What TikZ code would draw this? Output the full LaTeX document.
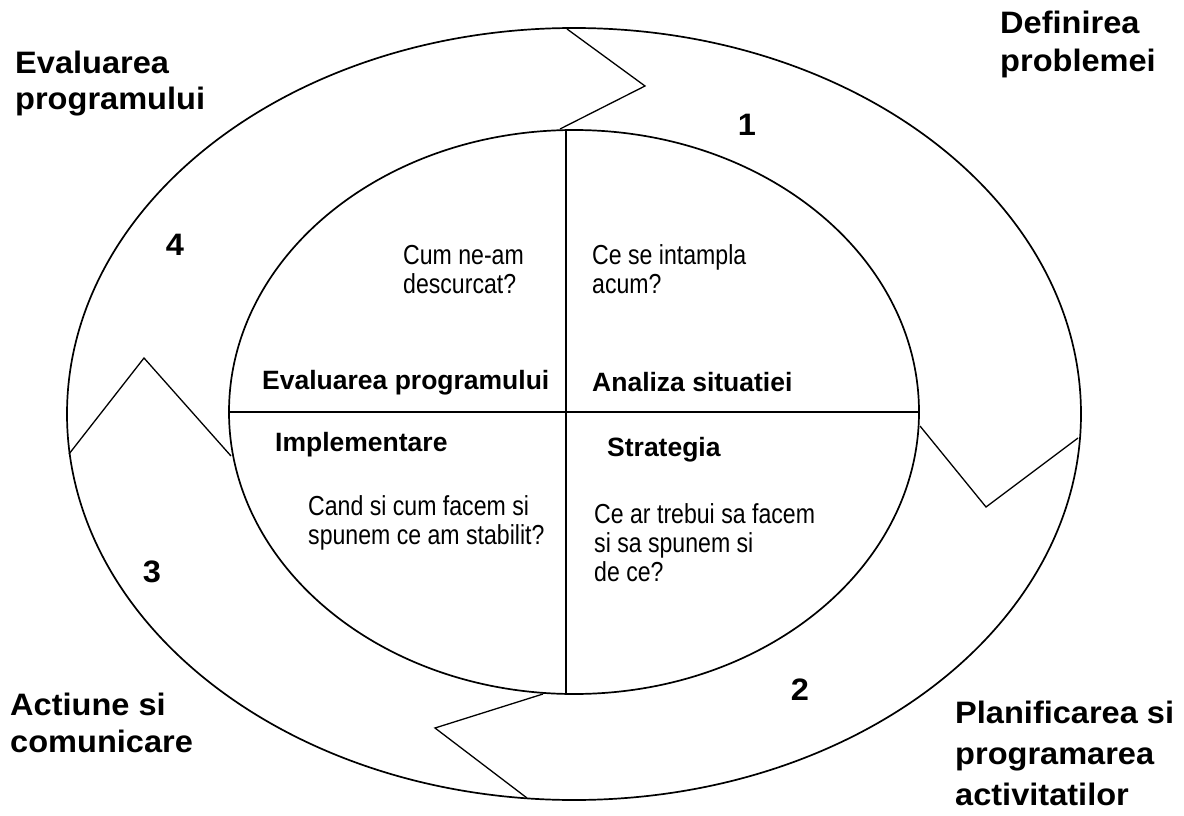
\documentclass[tikz,border=0pt]{standalone}
\usepackage{fontspec}
\setmainfont{Liberation Sans}
\newfontfamily\outerb[FakeStretch=1.05]{Liberation Sans Bold}
\newfontfamily\innerb{Liberation Sans Bold}
\newfontfamily\innern[FakeStretch=0.84]{Liberation Sans}
\tikzset{
  ring/.style={line width=1.7pt, black},
  chev/.style={line width=1.3pt, black, line join=miter},
  divider/.style={line width=1.7pt, black},
  outerlbl/.style={font=\outerb\fontsize{31}{38}\selectfont, align=left, anchor=base west, inner sep=0pt},
  numlbl/.style={font=\outerb\fontsize{31}{31}\selectfont, inner sep=0pt},
  phase/.style={font=\innerb\fontsize{26.5}{30}\selectfont, anchor=base west, inner sep=0pt},
  question/.style={font=\innern\fontsize{27.5}{29}\selectfont, align=left, anchor=base west, inner sep=0pt}
}
\begin{document}
\begin{tikzpicture}[x=1pt, y=-1pt]
\useasboundingbox (0,0) rectangle (1184,816);
% ellipses
\draw[ring] (574,414) ellipse [x radius=507pt, y radius=386pt];
\draw[ring] (574,412) ellipse [x radius=345pt, y radius=282pt];
% dividers
\coordinate (hl) at (229,412);
\coordinate (hr) at (919,412);
\coordinate (vt) at (566,130);
\coordinate (vb) at (566,694);
\draw[divider] (hl) -- (hr);
\draw[divider] (vt) -- (vb);
% chevrons
\coordinate (c1o) at (567,29);  \coordinate (c1t) at (645,86);  \coordinate (c1i) at (560,129);
\coordinate (c2i) at (920,426); \coordinate (c2t) at (986,507); \coordinate (c2o) at (1078,438);
\coordinate (c3i) at (543,694); \coordinate (c3t) at (435,728); \coordinate (c3o) at (527,798);
\coordinate (c4o) at (69,454);  \coordinate (c4t) at (144,358); \coordinate (c4i) at (231,456);
\draw[chev] (c1o) -- (c1t) -- (c1i);
\draw[chev] (c2i) -- (c2t) -- (c2o);
\draw[chev] (c3i) -- (c3t) -- (c3o);
\draw[chev] (c4o) -- (c4t) -- (c4i);
% outer labels (anchor = baseline of last line)
\node[outerlbl, font=\outerb\fontsize{31}{39}\selectfont] (ldef) at (1000,72) {Definirea\\problemei};
\node[outerlbl, font=\outerb\fontsize{31}{36}\selectfont] (leval) at (15,110) {Evaluarea\\programului};
\node[outerlbl, font=\outerb\fontsize{31}{37}\selectfont] (lact) at (10,752) {Actiune si\\comunicare};
\node[outerlbl, font=\outerb\fontsize{31}{41}\selectfont] (lplan) at (955,805) {Planificarea si\\programarea\\activitatilor};
% numbers
\node[numlbl] (n1) at (747,125) {1};
\node[numlbl] (n2) at (800,690) {2};
\node[numlbl] (n3) at (152,572) {3};
\node[numlbl] (n4) at (175,245) {4};
% phase labels
\node[phase] (pev) at (262,389) {Evaluarea programului};
\node[phase] (pan) at (592,391) {Analiza situatiei};
\node[phase] (pim) at (275,451) {Implementare};
\node[phase] (pst) at (607,456) {Strategia};
% questions (anchor = baseline of last line)
\node[question] (q1) at (403,293) {Cum ne-am\\descurcat?};
\node[question] (q2) at (592,293) {Ce se intampla\\acum?};
\node[question] (q3) at (308,544) {Cand si cum facem si\\spunem ce am stabilit?};
\node[question] (q4) at (594,581) {Ce ar trebui sa facem\\si sa spunem si\\de ce?};
\end{tikzpicture}
\end{document}
